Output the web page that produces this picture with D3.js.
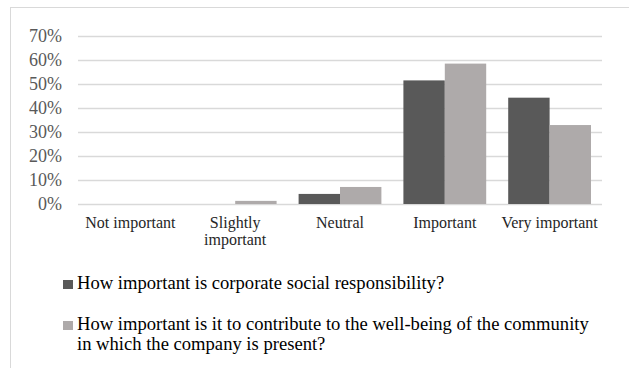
<!DOCTYPE html>
<html>
<head>
<meta charset="utf-8">
<script src="https://cdn.jsdelivr.net/npm/d3@7"></script>
<style>
  html, body { margin: 0; padding: 0; background: #fff; }
  svg { display: block; font-family: "Liberation Serif", "Times New Roman", serif; }
</style>
</head>
<body>
<svg id="chart" width="629" height="368"></svg>
<script>
// Survey answers, share of respondents per answer
const categories = ["Not important", "Slightly important", "Neutral", "Important", "Very important"];
const categoryLines = [["Not important"], ["Slightly", "important"], ["Neutral"], ["Important"], ["Very important"]];
const seriesNames = [
  "How important is corporate social responsibility?",
  "How important is it to contribute to the well-being of the community in which the company is present?"
];
const seriesLegendLines = [
  ["How important is corporate social responsibility?"],
  ["How important is it to contribute to the well-being of the community", "in which the company is present?"]
];
const csrValues = [0, 0, 4.2, 51.5, 44.3];
const communityValues = [0, 1.3, 7.1, 58.5, 32.9];
const yTicks = [0, 10, 20, 30, 40, 50, 60, 70];
const seriesColors = ["#595959", "#aeaaaa"];

const svg = d3.select("#chart");

// outer frame
svg.append("rect")
  .attr("x", 10.5).attr("y", 7.5)
  .attr("width", 640).attr("height", 400)
  .attr("fill", "none").attr("stroke", "#d9d9d9").attr("stroke-width", 1);

const plot = { left: 78, right: 602, top: 36, bottom: 204 };

const x0 = d3.scaleBand().domain(categories).range([plot.left, plot.right]).paddingInner(0.21).paddingOuter(0.105);
const x1 = d3.scaleBand().domain([0, 1]).range([0, x0.bandwidth()]);
const y = d3.scaleLinear().domain([0, 70]).range([plot.bottom, plot.top]);

// horizontal gridlines and percent labels
const yAxis = d3.axisLeft(y).tickValues(yTicks).tickFormat(d => d + "%").tickSize(-(plot.right - plot.left)).tickPadding(16);
const gy = svg.append("g").attr("transform", `translate(${plot.left},0)`).call(yAxis);
gy.select(".domain").remove();
gy.selectAll(".tick line").attr("stroke", "#d9d9d9").attr("stroke-width", 1.3);
gy.selectAll(".tick text")
  .attr("font-family", "Liberation Serif, serif")
  .attr("font-size", 18).attr("fill", "#595959").attr("dy", "0.33em");

// grouped bars
const series = [csrValues, communityValues];
const groups = svg.append("g").selectAll("g").data(categories).join("g")
  .attr("transform", c => `translate(${x0(c)},0)`);
groups.selectAll("rect")
  .data((c, i) => series.map((vals, s) => ({ s, v: vals[i] })))
  .join("rect")
  .attr("x", d => x1(d.s))
  .attr("width", x1.bandwidth())
  .attr("y", d => y(d.v))
  .attr("height", d => y(0) - y(d.v))
  .attr("fill", d => seriesColors[d.s]);

// category labels
const catG = svg.append("g");
categories.forEach((c, i) => {
  const cx = x0(c) + x0.bandwidth() / 2;
  const t = catG.append("text")
    .attr("x", cx)
    .attr("y", 228)
    .attr("text-anchor", "middle")
    .attr("font-size", 16).attr("fill", "#262626");
  categoryLines[i].forEach((line, j) => {
    t.append("tspan").attr("x", cx).attr("dy", j === 0 ? 0 : 17).text(line);
  });
});

// legend
const legendTop = [280, 321];
const legend = svg.append("g");
seriesNames.forEach((name, s) => {
  legend.append("rect")
    .attr("x", 63).attr("y", legendTop[s])
    .attr("width", 10).attr("height", 9)
    .attr("fill", seriesColors[s]);
  seriesLegendLines[s].forEach((line, j) => {
    legend.append("text")
      .attr("x", 77).attr("y", legendTop[s] + 8.5 + j * 20.6)
      .attr("font-size", 18.6).attr("fill", "#000")
      .text(line);
  });
});
</script>
</body>
</html>
